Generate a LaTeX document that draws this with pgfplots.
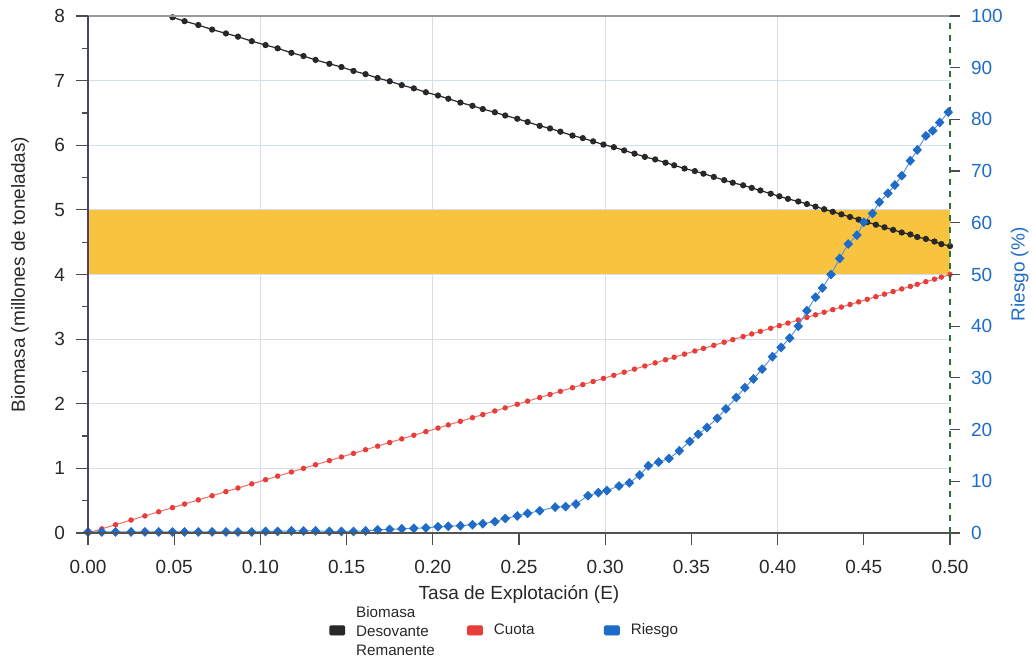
\documentclass[border=0pt]{standalone}
\usepackage{pgfplots}
\pgfplotsset{compat=1.18}
\usepackage{pgfplotstable}
\usepackage{fontspec}
\setmainfont{Liberation Sans}

\definecolor{bandc}{RGB}{248,196,64}
\definecolor{blk}{RGB}{40,40,40}
\definecolor{redm}{RGB}{232,62,58}
\definecolor{redl}{RGB}{240,110,100}
\definecolor{bluem}{RGB}{30,108,200}
\definecolor{bluel}{RGB}{95,150,220}
\definecolor{gridc}{RGB}{212,222,236}
\definecolor{leftax}{RGB}{75,65,105}
\definecolor{rightax}{RGB}{45,110,60}
\definecolor{txt}{RGB}{40,40,40}

\pgfplotstableread{
x C
0.000 0.000
0.008 0.064
0.016 0.128
0.025 0.200
0.033 0.264
0.041 0.328
0.049 0.392
0.056 0.448
0.064 0.512
0.072 0.576
0.080 0.640
0.087 0.696
0.095 0.760
0.103 0.824
0.110 0.880
0.118 0.944
0.125 1.000
0.132 1.056
0.140 1.120
0.147 1.176
0.154 1.232
0.161 1.288
0.168 1.344
0.175 1.400
0.182 1.456
0.189 1.512
0.196 1.568
0.203 1.624
0.209 1.672
0.216 1.728
0.223 1.784
0.229 1.832
0.236 1.888
0.242 1.936
0.249 1.992
0.255 2.040
0.262 2.096
0.268 2.144
0.274 2.192
0.281 2.248
0.287 2.296
0.293 2.344
0.299 2.392
0.305 2.440
0.311 2.488
0.317 2.536
0.323 2.584
0.329 2.632
0.335 2.680
0.340 2.720
0.346 2.768
0.352 2.816
0.357 2.856
0.363 2.904
0.369 2.952
0.374 2.992
0.380 3.040
0.385 3.080
0.390 3.120
0.396 3.168
0.401 3.208
0.406 3.248
0.412 3.296
0.417 3.336
0.422 3.376
0.427 3.416
0.432 3.456
0.437 3.496
0.442 3.536
0.447 3.576
0.452 3.616
0.457 3.656
0.462 3.696
0.467 3.736
0.472 3.776
0.477 3.816
0.481 3.848
0.486 3.888
0.491 3.928
0.495 3.960
0.500 4.000
}\tblC

\pgfplotstableread{
x B
0.033 8.10
0.041 8.04
0.049 7.98
0.056 7.92
0.064 7.86
0.072 7.79
0.080 7.73
0.087 7.68
0.095 7.61
0.103 7.55
0.110 7.50
0.118 7.43
0.125 7.38
0.132 7.32
0.140 7.26
0.147 7.21
0.154 7.15
0.161 7.10
0.168 7.04
0.175 6.99
0.182 6.93
0.189 6.88
0.196 6.82
0.203 6.77
0.209 6.72
0.216 6.66
0.223 6.61
0.229 6.56
0.236 6.51
0.242 6.46
0.249 6.41
0.255 6.36
0.262 6.30
0.268 6.26
0.274 6.21
0.281 6.15
0.287 6.11
0.293 6.06
0.299 6.01
0.305 5.97
0.311 5.92
0.317 5.87
0.323 5.82
0.329 5.78
0.335 5.73
0.340 5.69
0.346 5.64
0.352 5.60
0.357 5.56
0.363 5.51
0.369 5.46
0.374 5.42
0.380 5.38
0.385 5.34
0.390 5.30
0.396 5.25
0.401 5.21
0.406 5.17
0.412 5.13
0.417 5.09
0.422 5.05
0.427 5.01
0.432 4.97
0.437 4.93
0.442 4.89
0.447 4.85
0.452 4.81
0.457 4.77
0.462 4.73
0.467 4.69
0.472 4.65
0.477 4.62
0.481 4.58
0.486 4.55
0.491 4.51
0.495 4.47
0.500 4.44
}\tblB

\pgfplotstableread{
x R
0.000 0.2
0.008 0.2
0.016 0.2
0.025 0.2
0.033 0.2
0.041 0.2
0.049 0.2
0.056 0.2
0.064 0.2
0.072 0.2
0.080 0.2
0.087 0.2
0.095 0.2
0.103 0.3
0.110 0.3
0.118 0.4
0.125 0.4
0.132 0.4
0.140 0.3
0.147 0.3
0.154 0.3
0.161 0.4
0.168 0.6
0.175 0.7
0.182 0.8
0.189 0.9
0.196 1.0
0.203 1.2
0.209 1.3
0.216 1.4
0.223 1.6
0.229 1.8
0.236 2.2
0.242 2.8
0.249 3.3
0.255 3.8
0.262 4.3
0.271 5.0
0.277 5.1
0.283 5.6
0.290 7.2
0.296 7.8
0.301 8.2
0.308 9.1
0.314 9.7
0.320 11.2
0.325 13.0
0.331 13.7
0.337 14.4
0.343 15.9
0.349 17.7
0.354 19.1
0.359 20.4
0.365 22.2
0.370 24.0
0.376 26.2
0.381 28.1
0.386 29.8
0.391 31.7
0.397 34.1
0.402 35.9
0.407 37.7
0.412 40.0
0.417 43.0
0.422 45.6
0.426 47.4
0.431 50.0
0.436 53.1
0.441 55.9
0.446 57.6
0.450 60.1
0.455 61.8
0.459 64.0
0.464 65.7
0.468 67.3
0.472 69.1
0.477 72.0
0.481 74.1
0.486 76.8
0.490 77.8
0.494 79.4
0.499 81.4
}\tblR

\begin{document}
\begin{tikzpicture}
\pgfplotsset{
  every axis/.append style={
    scale only axis, width=431pt, height=258.5pt,
    xmin=0, xmax=0.5,
    /pgf/number format/assume math mode=true,
    tick label style={font=\fontsize{9.5}{10.5}\selectfont},
    label style={font=\fontsize{9.5}{11}\selectfont},
  },
}
% grid only
\begin{axis}[
  ymin=0, ymax=8,
  axis line style={draw=none},
  xtick={0.1,0.2,0.3,0.4}, ytick={1,2,3,4,5,6,7},
  xticklabels={}, yticklabels={},
  major tick length=0pt,
  xmajorgrids=true, ymajorgrids=true,
  grid style={draw=gridc, line width=0.5pt},
]
\end{axis}
% left axis: data, tick labels, half ticks
\begin{axis}[
  ymin=0, ymax=8,
  axis line style={draw=none},
  xtick pos=left, ytick pos=left,
  tick align=outside,
  xtick={0,0.05,0.1,0.15,0.2,0.25,0.3,0.35,0.4,0.45,0.5},
  xticklabels={0.00,0.05,0.10,0.15,0.20,0.25,0.30,0.35,0.40,0.45,0.50},
  ytick={0,1,2,3,4,5,6,7,8},
  minor y tick num=1,
  major tick length=6pt, minor tick length=3pt,
  tick style={draw=black!70, line width=0.6pt, solid},
  xticklabel style={text=txt, yshift=-4pt},
  yticklabel style={text=txt, xshift=-2pt},
  xlabel={Tasa de Explotación (E)},
  ylabel={Biomasa (millones de toneladas)},
  xlabel style={text=txt, at={(axis description cs:0.5,-0.118)}, anchor=center},
  ylabel style={text=txt, at={(axis description cs:-0.079,0.5)}, anchor=center},
]
\addplot[draw=none, fill=bandc, forget plot] coordinates {(0,4) (0.5,4) (0.5,5) (0,5)} -- cycle;
\addplot[color=redl, line width=0.5pt, mark=*, mark size=1.1pt, mark options={fill=redm, draw=redm}] table[x=x, y=C] {\tblC};
\addplot[color=blk, line width=0.6pt, mark=*, mark size=1.25pt, mark options={fill=blk, draw=blk}] table[x=x, y=B] {\tblB};
\coordinate (SW) at (rel axis cs:0,0);
\coordinate (NE) at (rel axis cs:1,1);
\end{axis}
% right axis: risk
\begin{axis}[
  ymin=0, ymax=100,
  axis x line*=top, axis y line*=right,
  tick align=outside,
  x axis line style={draw=gray!80, line width=0.6pt},
  y axis line style={draw=rightax, line width=0.8pt, dashed},
  xtick=\empty,
  ytick={0,10,20,30,40,50,60,70,80,90,100},
  major tick length=5pt,
  ytick style={draw=black!70, line width=0.6pt, solid},
  yticklabel style={text=bluem, xshift=2pt},
  ylabel={Riesgo (\%)},
  ylabel style={text=bluem, at={(axis description cs:1.081,0.5)}, anchor=center},
  legend columns=3,
  legend style={draw=none, fill=none, at={(axis description cs:0.2726,-0.125)}, anchor=north west,
    font=\fontsize{7.6}{9.6}\selectfont, text=txt,
    /tikz/every odd column/.append style={column sep=3.5pt},
    /tikz/every even column/.append style={column sep=0pt}},
]
\addplot[color=bluel, line width=0.5pt, mark=diamond*, mark size=2.1pt, mark options={fill=bluem, draw=bluem, xscale=1.3, solid}, forget plot] table[x=x, y=R] {\tblR};
\addlegendimage{legend image code/.code={\fill[blk, rounded corners=0.6pt] (0pt,-2.3pt) rectangle (7.5pt,2.3pt);}}
\addlegendimage{legend image code/.code={\fill[redm, rounded corners=0.6pt] (0pt,-2.3pt) rectangle (7.5pt,2.3pt);}}
\addlegendimage{legend image code/.code={\fill[bluem, rounded corners=0.6pt] (0pt,-2.3pt) rectangle (7.5pt,2.3pt);}}
\legend{{\raisebox{8.5pt}{\parbox{53.5pt}{Biomasa\\Desovante\\Remanente}}},{\makebox[53pt][l]{Cuota}},{Riesgo}}
\end{axis}
% left and bottom spines with full-length ticks (as minor ticks)
\begin{axis}[
  ymin=0, ymax=8,
  axis x line*=bottom, axis y line*=left,
  x axis line style={draw=txt!80, line width=0.6pt},
  y axis line style={draw=leftax, line width=0.7pt},
  tick align=outside,
  xtick={-1}, ytick={-1},
  minor xtick={0,0.05,0.1,0.15,0.2,0.25,0.3,0.35,0.4,0.45,0.5},
  minor ytick={0,1,2,3,4,5,6,7,8},
  minor tick length=6pt,
  minor tick style={draw=black!70, line width=0.6pt, solid},
]
\end{axis}
\pgfresetboundingbox
\path[use as bounding box] ([xshift=-44pt,yshift=-63.5pt]SW) rectangle ([xshift=41pt,yshift=8pt]NE);
\end{tikzpicture}
\end{document}
